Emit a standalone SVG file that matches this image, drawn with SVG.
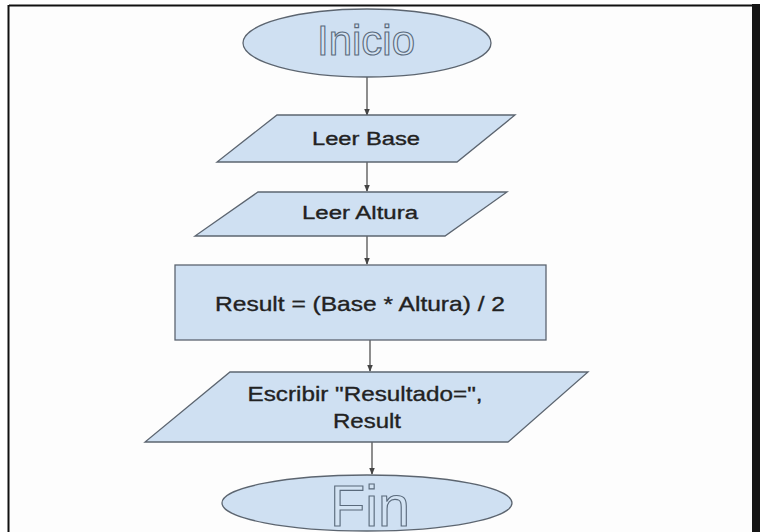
<svg xmlns="http://www.w3.org/2000/svg" width="760" height="532" viewBox="0 0 760 532">
  <style>
    .shape { fill: #cfe0f2; stroke: #5c6570; stroke-width: 1.3; }
    .label { font-family: "Liberation Sans", Arial, sans-serif; fill: #222; stroke: #222; stroke-width: 0.35; text-anchor: middle; }
    .hollow { font-family: "Liberation Sans", Arial, sans-serif; fill: #d3e3f3; stroke: #5a6a7c; stroke-width: 1.1; text-anchor: middle; }
    .conn { stroke: #444; stroke-width: 1.2; fill: none; marker-end: url(#arrow); }
  </style>
  <defs>
    <marker id="arrow" viewBox="0 0 8 8" refX="7" refY="4" markerWidth="7" markerHeight="7" markerUnits="userSpaceOnUse" orient="auto">
      <path d="M0,0.8 L8,4 L0,7.2 Z" fill="#444"/>
    </marker>
  </defs>

  <!-- page background and frame -->
  <rect x="0" y="0" width="760" height="532" fill="#ffffff"/>
  <rect x="9" y="6" width="743" height="530" fill="#fdfdfd"/>
  <line x1="9" y1="5.5" x2="752" y2="5.5" stroke="#111" stroke-width="2"/>
  <line x1="8.5" y1="5" x2="8.5" y2="532" stroke="#111" stroke-width="2"/>
  <rect x="752" y="4" width="8" height="528" fill="#161616"/>

  <!-- connectors -->
  <g id="connectors">
    <line class="conn" x1="367" y1="77" x2="367" y2="115"/>
    <line class="conn" x1="367" y1="162" x2="367" y2="191"/>
    <line class="conn" x1="367" y1="236" x2="367" y2="264"/>
    <line class="conn" x1="370" y1="340" x2="370" y2="371"/>
    <line class="conn" x1="372" y1="442" x2="372" y2="474"/>
  </g>

  <g id="inicio">
    <ellipse class="shape" cx="367" cy="43" rx="124" ry="34"/>
    <text class="hollow" x="366" y="55" font-size="42" textLength="98" lengthAdjust="spacingAndGlyphs">Inicio</text>
  </g>

  <g id="leer-base">
    <polygon class="shape" points="277,115 515,115 457,162 217,162"/>
    <text class="label" x="366" y="145" font-size="18" textLength="108" lengthAdjust="spacingAndGlyphs">Leer Base</text>
  </g>

  <g id="leer-altura">
    <polygon class="shape" points="258,192 507,192 445,236 195,236"/>
    <text class="label" x="360" y="219" font-size="18" textLength="116" lengthAdjust="spacingAndGlyphs">Leer Altura</text>
  </g>

  <g id="calculo">
    <rect class="shape" x="175" y="265" width="371" height="75"/>
    <text class="label" x="360" y="311" font-size="21" textLength="290" lengthAdjust="spacingAndGlyphs">Result = (Base * Altura) / 2</text>
  </g>

  <g id="escribir">
    <polygon class="shape" points="230,372 588,372 508,442 145,442"/>
    <text class="label" x="365" y="401" font-size="21" textLength="235" lengthAdjust="spacingAndGlyphs">Escribir "Resultado=",</text>
    <text class="label" x="367" y="428" font-size="21" textLength="68" lengthAdjust="spacingAndGlyphs">Result</text>
  </g>

  <g id="fin">
    <ellipse class="shape" cx="367" cy="503" rx="145" ry="28"/>
    <text class="hollow" x="370" y="526" font-size="57" textLength="80" lengthAdjust="spacingAndGlyphs">Fin</text>
  </g>
</svg>
